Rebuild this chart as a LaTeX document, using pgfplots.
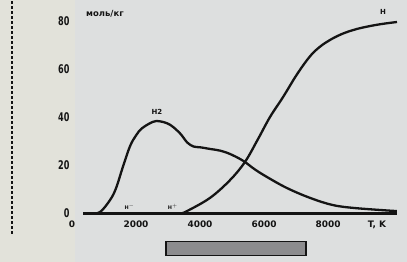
\documentclass[border=0pt]{standalone}
\usepackage{fontspec}
\setmainfont{DejaVu Sans}
\usepackage{pgfplots}
\pgfplotsset{compat=1.18}
\definecolor{bgcol}{RGB}{221,223,223}
\definecolor{leftcol}{RGB}{226,226,218}
\definecolor{barcol}{RGB}{140,140,142}
\definecolor{ink}{RGB}{20,20,20}
\begin{document}
\begin{tikzpicture}[x=1bp,y=1bp]
\fill[bgcol] (0,0) rectangle (407,262);
\fill[leftcol] (0,0) rectangle (75,262);
\useasboundingbox (0,0) rectangle (407,262);
\draw[ink, line width=1.2bp, dash pattern=on 3bp off 2bp] (12,28) -- (12,262);
\draw[ink, line width=1.5bp, fill=barcol] (166,6.5) rectangle (306,20.5);
\begin{axis}[
  at={(72bp,48.5bp)}, anchor=south west,
  scale only axis, width=325bp, height=196.8bp,
  xmin=0, xmax=10156, ymin=0, ymax=82,
  clip=false,
  axis line style={draw=none},
  major tick length=0pt,
  xtick={0,2000,4000,6000,8000,9531},
  xticklabels={0,2000,4000,6000,8000,{T, K}},
  ytick={0,20,40,60,80},
  yticklabel={\scalebox{0.68}[1]{\pgfmathprintnumber{\tick}}},
  /pgf/number format/assume math mode=true,
  xticklabel style={font=\fontsize{9}{10}\selectfont\bfseries, text=ink, yshift=-4bp},
  yticklabel style={font=\fontsize{12}{13}\selectfont\bfseries, text=ink, xshift=1bp},
  scaled x ticks=false,
]
\addplot[ink, line width=2.6bp] coordinates {(344,0) (10156,0)};
\addplot[ink, line width=2.3bp, smooth, tension=0.6] coordinates {
(600,0) (875,0.6) (1188,5.6) (1375,10.5) (1580,19) (1812,28) (2000,32.5)
(2187,35.5) (2531,38.2) (2750,38.4) (3060,37) (3375,33.4) (3600,29.6)
(3800,27.9) (4000,27.6) (4312,26.9) (4625,26.2) (4937,24.8) (5344,22)
(5700,18.5) (6094,15.2) (6719,10.6) (7440,6.5) (8160,3.5) (8900,2.2) (10150,1)};
\addplot[ink, line width=2.3bp, smooth, tension=0.6] coordinates {
(3400,0) (3594,1) (4312,6.5) (4937,13.9) (5406,21.5) (5812,31) (6187,40.2)
(6594,48.5) (7031,58) (7437,65.5) (7750,69.5) (8062,72.3) (8400,74.6)
(8750,76.3) (9094,77.5) (9600,78.8) (10156,79.8)};
\node[font=\fontsize{7}{8}\selectfont\bfseries, text=ink] at (axis cs:2656,42.5) {H2};
\node[font=\fontsize{7}{8}\selectfont\bfseries, text=ink] at (axis cs:9719,84) {H};
\node[font=\fontsize{8.5}{9}\selectfont\bfseries, text=ink] at (axis cs:1031,83.1) {моль/кг};
\node[font=\fontsize{5}{6}\selectfont\bfseries, text=ink] at (axis cs:1800,2.7) {H$^-$};
\node[font=\fontsize{5}{6}\selectfont\bfseries, text=ink] at (axis cs:3150,2.7) {H$^+$};
\end{axis}
\end{tikzpicture}
\end{document}
